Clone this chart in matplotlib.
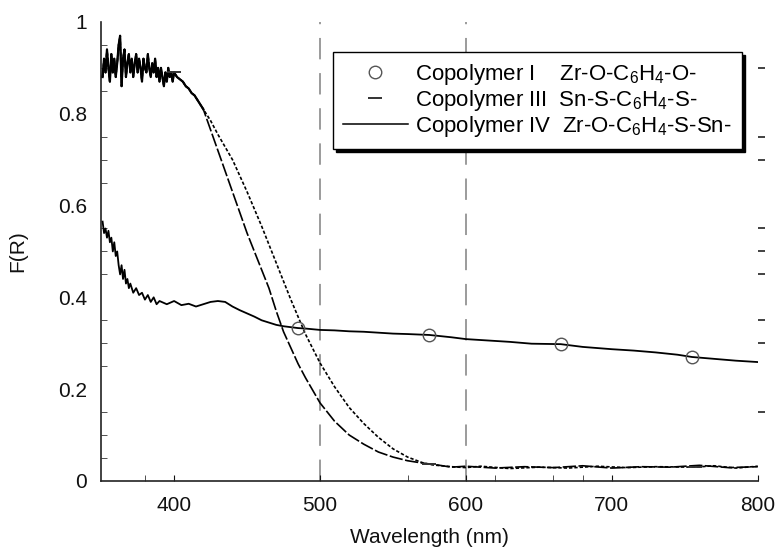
import numpy as np
import matplotlib
matplotlib.use("Agg")
import matplotlib.pyplot as plt
from matplotlib.ticker import FixedLocator, FuncFormatter

plt.rcParams['font.family'] = ['Liberation Sans', 'DejaVu Sans']
plt.rcParams['mathtext.fontset'] = 'custom'
plt.rcParams['mathtext.rm'] = 'Liberation Sans'
plt.rcParams['mathtext.it'] = 'Liberation Sans:italic'

# shared start of copolymer III / IV (they overlap up to ~420 nm), very noisy
top_wl = [351, 352, 353, 354, 355, 356, 357, 358, 359, 360, 361, 362, 363, 364, 365, 366, 367, 368,
          369, 370, 371, 372, 373, 374, 375, 376, 377, 378, 379, 380, 381, 382, 383, 384, 385, 386,
          387, 388, 389, 390, 391, 392, 393, 394, 395, 396, 397, 398, 399, 400, 402, 404, 406, 408,
          410, 412, 414, 416, 418, 420]
top_val = [0.88, 0.92, 0.89, 0.94, 0.90, 0.87, 0.93, 0.89, 0.92, 0.88, 0.91, 0.95, 0.97, 0.86, 0.92,
           0.94, 0.88, 0.91, 0.93, 0.89, 0.92, 0.88, 0.91, 0.93, 0.89, 0.92, 0.90, 0.87, 0.92, 0.90,
           0.89, 0.93, 0.90, 0.88, 0.91, 0.89, 0.92, 0.88, 0.90, 0.87, 0.90, 0.88, 0.86, 0.89, 0.87,
           0.90, 0.88, 0.89, 0.87, 0.89, 0.88, 0.875, 0.87, 0.86, 0.855, 0.845, 0.84, 0.83, 0.82, 0.81]

# copolymer IV (steeper fall)
iv_wl = [425, 430, 440, 450, 460, 465, 470, 475, 480, 485, 490, 500, 510, 520, 530, 540, 550, 560,
         570, 580, 590, 600, 620, 640, 660, 680, 700, 720, 740, 760, 780, 800]
iv_val = [0.765, 0.72, 0.63, 0.54, 0.46, 0.42, 0.37, 0.325, 0.29, 0.255, 0.225, 0.17, 0.13, 0.10, 0.08,
          0.063, 0.052, 0.044, 0.039, 0.035, 0.030, 0.032, 0.028, 0.031, 0.029, 0.033, 0.028, 0.031,
          0.030, 0.034, 0.029, 0.031]

# copolymer III
iii_wl = [425, 430, 440, 450, 460, 470, 480, 490, 500, 510, 520, 530, 540, 550, 560, 570, 575, 580,
          590, 600, 610, 630, 650, 670, 690, 710, 730, 757, 770, 785, 800]
iii_val = [0.785, 0.755, 0.70, 0.63, 0.555, 0.475, 0.395, 0.32, 0.257, 0.205, 0.16, 0.125, 0.095, 0.07,
           0.052, 0.04, 0.036, 0.034, 0.031, 0.029, 0.032, 0.027, 0.030, 0.028, 0.032, 0.029, 0.031,
           0.030, 0.033, 0.028, 0.032]

# copolymer I (flat curve)
i_wl = [351, 352, 353, 354, 355, 356, 357, 358, 359, 360, 361, 362, 363, 364, 365, 366, 367, 368,
        369, 370, 372, 374, 376, 378, 380, 382, 384, 386, 388, 390, 395, 400, 405, 410, 415, 420,
        425, 430, 435, 440, 445, 450, 455, 460, 465, 470, 475, 480, 485, 490, 500, 510, 520, 530,
        540, 550, 560, 575, 590, 600, 615, 630, 645, 665, 680, 700, 715, 730, 745, 755, 770, 785, 800]
i_val = [0.565, 0.54, 0.55, 0.53, 0.545, 0.52, 0.53, 0.50, 0.52, 0.49, 0.50, 0.47, 0.45, 0.47, 0.44,
         0.46, 0.43, 0.44, 0.42, 0.43, 0.41, 0.42, 0.405, 0.41, 0.395, 0.405, 0.39, 0.40, 0.385,
         0.392, 0.385, 0.392, 0.383, 0.386, 0.38, 0.385, 0.39, 0.392, 0.39, 0.38, 0.372, 0.365,
         0.358, 0.35, 0.345, 0.34, 0.337, 0.335, 0.333, 0.332, 0.329, 0.328, 0.326, 0.325, 0.323,
         0.321, 0.32, 0.318, 0.313, 0.309, 0.306, 0.303, 0.299, 0.298, 0.292, 0.287, 0.284, 0.280,
         0.275, 0.27, 0.266, 0.262, 0.259]

i_marks = [485, 575, 665, 755]
iii_marks = [400, 575, 757]
guide_wl = [500, 600]

iv_x = np.array(top_wl + iv_wl)
iv_y = np.array(top_val + iv_val)
iii_x = np.array(top_wl + iii_wl)
iii_y = np.array(top_val + iii_val)
i_x = np.array(i_wl)
i_y = np.array(i_val)

fig = plt.figure(figsize=(7.78, 5.49), dpi=100)
ax = fig.add_axes([0.130, 0.124, 0.844, 0.836])

for g in guide_wl:
    ax.axvline(g, color='#808080', lw=1.1, ls=(0, (14, 9)), zorder=1)

ax.plot(i_x, i_y, color='black', lw=1.3, zorder=3)
ax.plot(iv_x, iv_y, color='black', lw=1.2, ls=(0, (8, 1.5)), zorder=3)
ax.plot(iii_x, iii_y, color='black', lw=1.2, ls=(0, (2, 1.2)), zorder=3)
# heavy noisy start shared by both
n = len(top_wl)
ax.plot(iv_x[:n], iv_y[:n], color='black', lw=1.6, zorder=3)

m = np.isin(i_x, i_marks)
ax.plot(i_x[m], i_y[m], ls='none', marker='o', ms=9, mfc='none', mec='#555555', mew=1,
        label='Copolymer I    Zr-O-C$_6$H$_4$-O-', zorder=4)
m = np.isin(iii_x, iii_marks)
ax.plot(iii_x[m], iii_y[m], ls='none', marker='_', ms=10, mec='#333333', mew=1.4,
        label='Copolymer III  Sn-S-C$_6$H$_4$-S-', zorder=4)
ax.plot([], [], color='black', lw=1.1, label='Copolymer IV  Zr-O-C$_6$H$_4$-S-Sn-')

ax.set_xlim(350, 800)
ax.set_ylim(0, 1)
ax.set_xticks([400, 500, 600, 700, 800])
ax.set_yticks([0, 0.2, 0.4, 0.6, 0.8, 1.0])
ax.yaxis.set_major_formatter(FuncFormatter(lambda v, p: f'{v:g}'))
ax.yaxis.set_minor_locator(FixedLocator([0.05, 0.1, 0.15, 0.25, 0.3, 0.35, 0.45, 0.5, 0.55,
                                         0.65, 0.7, 0.75, 0.85, 0.9, 0.95]))
ax.xaxis.set_minor_locator(FixedLocator([380, 560, 620, 660, 680]))
ax.tick_params(axis='both', which='major', labelsize=15, length=0, pad=10, colors='#111111')
ax.tick_params(axis='x', which='major', length=4, direction='in', pad=11)
ax.tick_params(axis='both', which='minor', length=4, direction='in', color='#333333')

for s in ['top', 'right']:
    ax.spines[s].set_visible(False)
for s in ['left', 'bottom']:
    ax.spines[s].set_color('#222222')
    ax.spines[s].set_linewidth(1.2)

# loose ticks on the right, no spine there
ax2 = ax.twinx()
ax2.set_ylim(0, 1)
ax2.set_yticks([0.15, 0.3, 0.35, 0.45, 0.5, 0.55, 0.7, 0.75, 0.9])
ax2.tick_params(axis='y', length=5, width=1.3, direction='out', pad=2, labelright=False, color='#333333')
for s in ax2.spines.values():
    s.set_visible(False)

ax.set_xlabel('Wavelength (nm)', fontsize=15, labelpad=9, color='#111111')
ax.set_ylabel('F(R)', fontsize=15, labelpad=22, color='#111111')

leg = ax.legend(loc='upper right', bbox_to_anchor=(0.976, 0.935), fontsize=16,
                handlelength=2.9, handletextpad=0.35, labelspacing=0.05, borderpad=0.45,
                borderaxespad=0, fancybox=False, frameon=True,
                shadow={'color': 'black', 'alpha': 1})
leg.get_frame().set_edgecolor('black')
leg.get_frame().set_linewidth(1)
leg.set_zorder(5)

fig.savefig('out.png', dpi=100)
